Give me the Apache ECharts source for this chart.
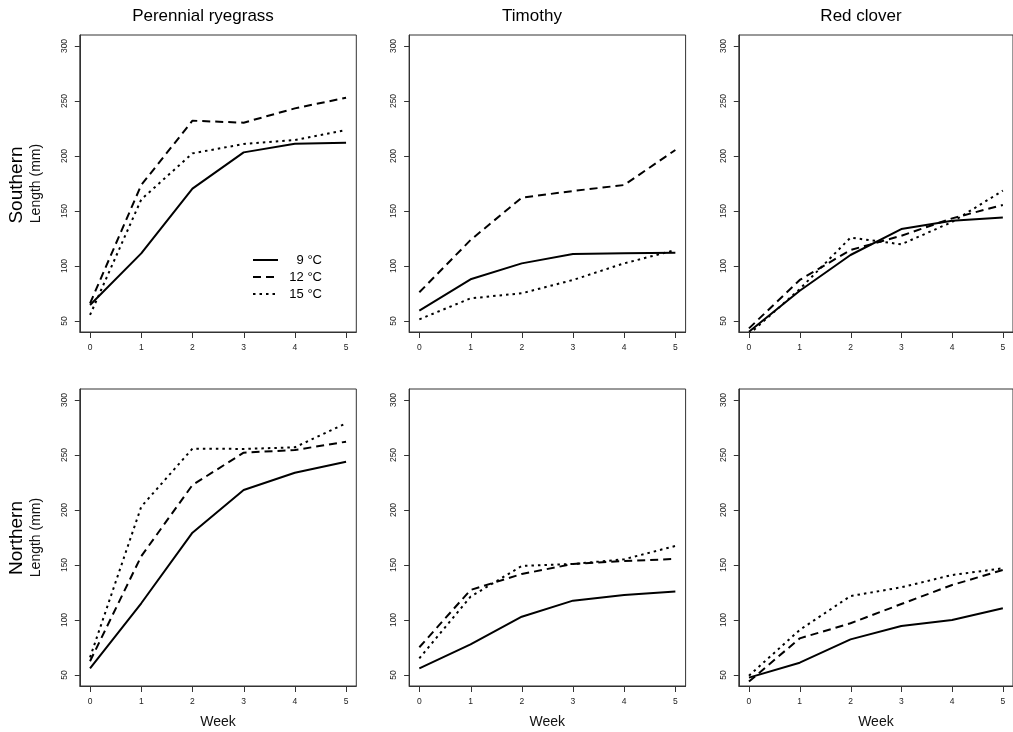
<!DOCTYPE html>
<html>
<head>
<meta charset="utf-8">
<script src="https://cdn.jsdelivr.net/npm/echarts@6/dist/echarts.min.js"></script>
<style>
html,body{margin:0;padding:0;background:#fff;}
#chart{width:1013px;height:732px;}
</style>
</head>
<body>
<div id="chart"></div>
<script>
// ---- data ----
const weeks = [0, 1, 2, 3, 4, 5];
const yTicks = [50, 100, 150, 200, 250, 300];
const species = ["Perennial ryegrass", "Timothy", "Red clover"];
const origins = ["Southern", "Northern"];
const temps = ["9 \u00B0C", "12 \u00B0C", "15 \u00B0C"];

// Southern
const ryeS9  = [64.5, 111.5, 170.3, 203.3, 211.2, 212.1];
const ryeS12 = [66, 173.6, 232.1, 230.3, 243.3, 253];
const ryeS15 = [55.5, 160.5, 202.4, 210.9, 214.5, 223.6];
const timS9  = [59.4, 87.9, 102.4, 110.9, 111.5, 112.1];
const timS12 = [76.1, 123.6, 162.1, 168.2, 173.6, 205.5];
const timS15 = [51.5, 70.6, 75.2, 87.3, 102.4, 114.5];
const rcS9   = [40.3, 77.5, 110, 133.6, 141.2, 144.2];
const rcS12  = [43.3, 87.3, 114.5, 127.5, 143.3, 155.5];
const rcS15  = [38, 79, 125.8, 119.7, 140, 168.5];
// Northern
const ryeN9  = [56.1, 115.2, 179.4, 218.2, 233.9, 243.9];
const ryeN12 = [62.5, 158, 222.7, 252.1, 254.5, 262.1];
const ryeN15 = [66, 203, 255.8, 255.5, 257, 278.8];
const timN9  = [56.1, 77.9, 103, 117.6, 122.7, 125.8];
const timN12 = [75.2, 127.3, 141.8, 150.9, 153.6, 155.5];
const timN15 = [65.2, 121.2, 149.1, 150.9, 155.2, 167.3];
const rcN9   = [47.6, 61.2, 82.4, 94.5, 100, 110.6];
const rcN12  = [44, 83.3, 97, 114.5, 131.8, 145.5];
const rcN15  = [49.4, 91, 121.8, 129.7, 140.9, 147];

const panels = [
  [ryeS9, ryeS12, ryeS15], [timS9, timS12, timS15], [rcS9, rcS12, rcS15],
  [ryeN9, ryeN12, ryeN15], [timN9, timN12, timN15], [rcN9, rcN12, rcN15]
];

// ---- layout ----
const FONT = '"Liberation Sans", Arial, sans-serif';
const colLeft = [79.8, 409.1, 738.8];
const rowTop = [35, 389];
const W = 276.5, H = 297;
const X_MIN = -0.2, X_MAX = 5.2, Y_MIN = 40, Y_MAX = 310;
const dashes = ['solid', [8, 5], [2.5, 4]];
const AX = '#333';

const grids = [], xAxes = [], yAxes = [], series = [];
for (let r = 0; r < 2; r++) {
  for (let c = 0; c < 3; c++) {
    const i = r * 3 + c;
    grids.push({
      left: colLeft[c], top: rowTop[r], width: W, height: H,
      show: true, borderColor: AX, borderWidth: 1, backgroundColor: 'transparent'
    });
    xAxes.push({
      type: 'value', gridIndex: i, min: X_MIN, max: X_MAX, position: 'bottom',
      axisLine: { show: true, onZero: false, lineStyle: { color: AX, width: 1 } },
      splitLine: { show: false },
      axisTick: { show: false },
      axisLabel: { fontFamily: FONT, fontSize: 8.5, color: '#222', margin: 11, customValues: weeks },
      name: r === 1 ? 'Week' : '', nameLocation: 'middle', nameGap: 29,
      nameTextStyle: { fontFamily: FONT, fontSize: 14, color: '#111' }
    });
    yAxes.push({
      type: 'value', gridIndex: i, min: Y_MIN, max: Y_MAX, position: 'left',
      axisLine: { show: true, onZero: false, lineStyle: { color: AX, width: 1 } },
      splitLine: { show: false },
      axisTick: { show: false },
      axisLabel: { fontFamily: FONT, fontSize: 8.5, color: '#222', rotate: 90, margin: 11, customValues: yTicks },
      name: c === 0 ? 'Length (mm)' : '', nameLocation: 'middle', nameGap: 37, nameRotate: 90,
      nameTextStyle: { fontFamily: FONT, fontSize: 14, color: '#111' }
    });
    panels[i].forEach((vals, k) => {
      series.push({
        type: 'line', name: temps[k], xAxisIndex: i, yAxisIndex: i,
        data: weeks.map((w, j) => [w, vals[j]]),
        symbol: 'none', silent: true,
        lineStyle: { color: '#000', width: 2, type: dashes[k], cap: 'butt' }
      });
    });
  }
}

const graphics = [];
const titleX = [203, 532, 861];
species.forEach((s, c) => graphics.push({
  type: 'text', x: titleX[c], y: 16,
  style: { text: s, font: '17px ' + FONT, fill: '#000', textAlign: 'center', textVerticalAlign: 'middle', align: 'center', verticalAlign: 'middle' }
}));
const rowY = [185, 538];
origins.forEach((o, r) => graphics.push({
  type: 'text', x: 17, y: rowY[r], rotation: Math.PI / 2,
  style: { text: o, font: '19px ' + FONT, fill: '#000', textAlign: 'center', textVerticalAlign: 'middle', align: 'center', verticalAlign: 'middle' }
}));
// legend (top-left panel)
const legY = [260, 277, 294];
temps.forEach((t, k) => {
  graphics.push({
    type: 'line', shape: { x1: 253, y1: legY[k], x2: 278, y2: legY[k] },
    style: { stroke: '#000', lineWidth: 2, lineDash: k === 0 ? null : dashes[k] }
  });
  graphics.push({
    type: 'text', x: 322, y: legY[k],
    style: { text: t, font: '13px ' + FONT, fill: '#000', textAlign: 'right', textVerticalAlign: 'middle', align: 'right', verticalAlign: 'middle' }
  });
});

const chart = echarts.init(document.getElementById('chart'), null, { renderer: 'canvas' });
chart.setOption({
  animation: false,
  backgroundColor: '#fff',
  grid: grids, xAxis: xAxes, yAxis: yAxes, series: series,
  graphic: graphics
});

// outward tick marks, positioned through each grid's axis scales
const tickGraphics = [];
for (let i = 0; i < 6; i++) {
  yTicks.forEach(v => {
    const p = chart.convertToPixel({ gridIndex: i }, [X_MIN, v]);
    const y = Math.round(p[1]) + 0.5;
    tickGraphics.push({ type: 'line', z: 100, silent: true,
      shape: { x1: p[0] - 5, y1: y, x2: p[0], y2: y },
      style: { stroke: AX, lineWidth: 1 } });
  });
  weeks.forEach(w => {
    const p = chart.convertToPixel({ gridIndex: i }, [w, Y_MIN]);
    const x = Math.round(p[0]) + 0.5;
    tickGraphics.push({ type: 'line', z: 100, silent: true,
      shape: { x1: x, y1: p[1], x2: x, y2: p[1] + 6 },
      style: { stroke: AX, lineWidth: 1 } });
  });
}
chart.setOption({ graphic: graphics.concat(tickGraphics) });
</script>
</body>
</html>
